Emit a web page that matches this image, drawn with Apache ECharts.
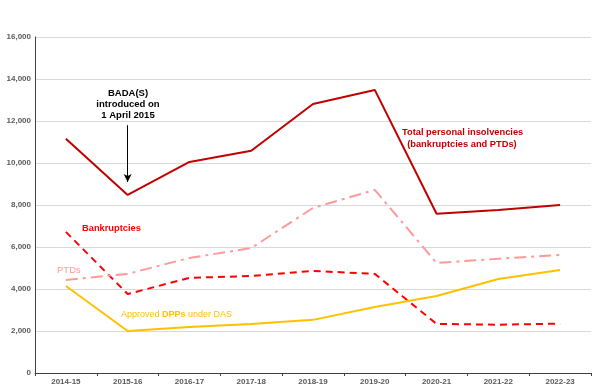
<!DOCTYPE html>
<html><head><meta charset="utf-8">
<script src="https://cdn.jsdelivr.net/npm/echarts@6/dist/echarts.min.js"></script>
<style>html,body{margin:0;padding:0;background:#fff}#c{width:601px;height:392px}</style>
</head><body><div id="c"></div>
<script>
const categories = ['2014-15','2015-16','2016-17','2017-18','2018-19','2019-20','2020-21','2021-22','2022-23'];
const totalInsolvencies = [11150, 8480, 10050, 10580, 12810, 13480, 7580, 7760, 8000];
const bankruptcies = [6720, 3760, 4530, 4620, 4860, 4720, 2340, 2300, 2350];
const ptds = [4430, 4720, 5480, 5950, 7860, 8720, 5240, 5440, 5620];
const dpps = [4140, 2000, 2190, 2330, 2530, 3140, 3670, 4480, 4910];
const yTicks = [0, 2000, 4000, 6000, 8000, 10000, 12000, 14000, 16000];

const chart = echarts.init(document.getElementById('c'));
const font = 'Liberation Sans, Arial, sans-serif';
chart.setOption({
  animation: false,
  grid: {left: 35, right: 10, top: 37, bottom: 19},
  xAxis: {
    type: 'category', data: categories, boundaryGap: true,
    axisLine: {lineStyle: {color: '#404040', width: 1}},
    axisTick: {show: true, length: 3, lineStyle: {color: '#404040'}},
    axisLabel: {color: '#595959', fontSize: 8, fontFamily: font, fontWeight: 'bold', margin: 5}
  },
  yAxis: {
    type: 'value', min: yTicks[0], max: yTicks[yTicks.length-1], interval: 2000,
    axisLine: {show: true, lineStyle: {color: '#404040', width: 1}},
    axisTick: {show: false},
    splitLine: {lineStyle: {color: '#D9D9D9', width: 1}},
    axisLabel: {color: '#595959', fontSize: 8, fontFamily: font, fontWeight: 'bold', margin: 4,
      formatter: v => v.toLocaleString('en-US')}
  },
  series: [
    {name: 'Total', type: 'line', data: totalInsolvencies, symbol: 'none',
      lineStyle: {color: '#C00000', width: 2},
      markLine: {silent: true, symbol: ['none', 'arrow'], symbolSize: [6, 8],
        label: {show: false},
        lineStyle: {color: '#000', width: 1, type: 'solid'},
        data: [[{coord: ['2015-16', 11800]}, {coord: ['2015-16', 9100]}]]}},
    {name: 'Bankruptcies', type: 'line', data: bankruptcies, symbol: 'none',
      lineStyle: {color: '#FF0000', width: 2, type: [7, 5]}},
    {name: 'PTDs', type: 'line', data: ptds, symbol: 'none',
      lineStyle: {color: '#FF9999', width: 2, type: [12, 5, 3, 5]}},
    {name: 'DPPs', type: 'line', data: dpps, symbol: 'none',
      lineStyle: {color: '#FFC000', width: 2}}
  ],
  graphic: [
    {type: 'text', x: 128, y: 88, style: {text: 'BADA(S)\nintroduced on\n1 April 2015', fill: '#000', font: 'bold 9.5px ' + font, align: 'center', verticalAlign: 'top', lineHeight: 11}},
    {type: 'text', x: 402, y: 126, style: {text: 'Total personal insolvencies\n  (bankruptcies and PTDs)', fill: '#C00000', font: 'bold 9.3px ' + font, lineHeight: 12}},
    {type: 'text', x: 82, y: 224, style: {text: 'Bankruptcies', fill: '#FF0000', font: 'bold 9.3px ' + font}},
    {type: 'text', x: 57, y: 265, style: {text: 'PTDs', fill: '#FF9999', font: '9.5px ' + font}},
    {type: 'text', x: 121, y: 310, style: {rich: {n: {fill: '#FFC000', font: '9px ' + font}, b: {fill: '#FFC000', font: 'bold 9px ' + font}}, text: '{n|Approved }{b|DPPs}{n| under DAS}'}}
  ]
});
</script></body></html>
